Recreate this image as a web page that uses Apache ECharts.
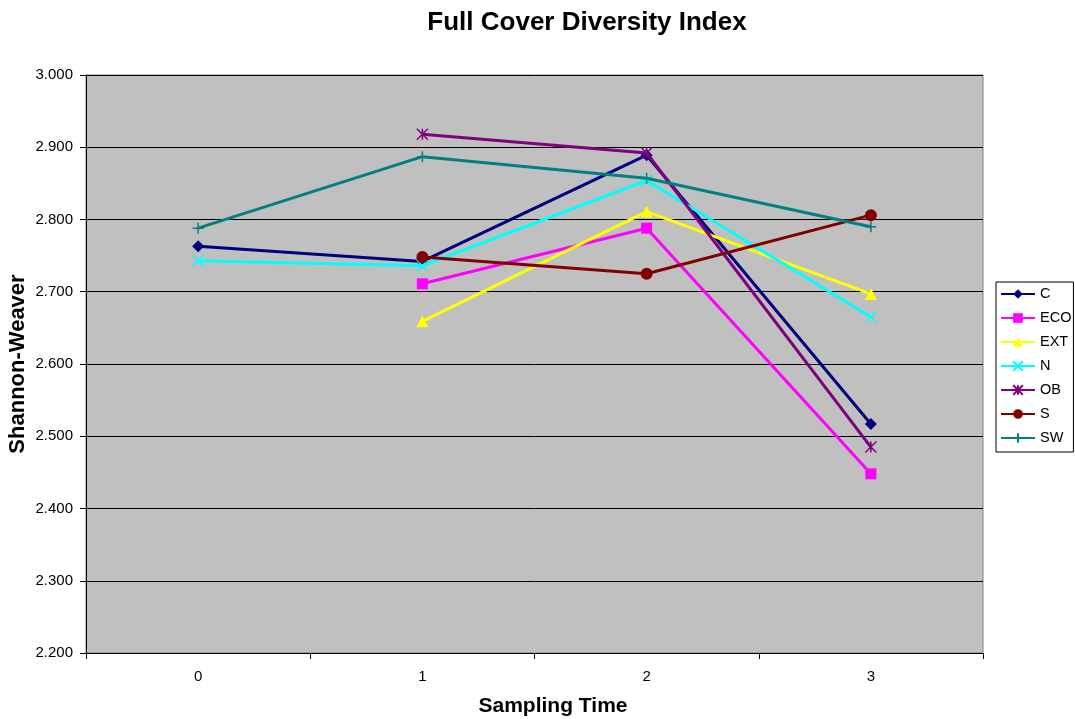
<!DOCTYPE html>
<html>
<head>
<meta charset="utf-8">
<script src="https://cdn.jsdelivr.net/npm/echarts@6/dist/echarts.min.js"></script>
<style>
  html, body { margin: 0; padding: 0; background: #ffffff; }
  #chart { width: 1075px; height: 719px; }
</style>
</head>
<body>
<div id="chart"></div>
<script>
// Sampling times on the x axis
const samplingTimes = ['0', '1', '2', '3'];

// Shannon-Weaver index per treatment (null = not sampled)
const seriesNames = ['C', 'ECO', 'EXT', 'N', 'OB', 'S', 'SW'];
const valuesC   = [2.763, 2.742, 2.889, 2.517];
const valuesECO = [null, 2.711, 2.788, 2.448];
const valuesEXT = [null, 2.659, 2.811, 2.697];
const valuesN   = [2.743, 2.736, 2.854, 2.665];
const valuesOB  = [null, 2.918, 2.892, 2.485];
const valuesS   = [null, 2.748, 2.725, 2.806];
const valuesSW  = [2.788, 2.887, 2.857, 2.790];

const yMin = 2.2, yMax = 3.0, yStep = 0.1;

const colors = ['#000080', '#FF00FF', '#FFFF00', '#00FFFF', '#800080', '#800000', '#008080'];
const symbols = [
  'diamond',
  'rect',
  'triangle',
  'path://M0,0L10,10M10,0L0,10',
  'path://M0,0L10,10M10,0L0,10M5,0L5,10',
  'circle',
  'path://M5,0L5,10M0,5L10,5'
];
const symbolSizes = [12, 11, 12, 11, 11, 12, 11];
const allValues = [valuesC, valuesECO, valuesEXT, valuesN, valuesOB, valuesS, valuesSW];

const font = 'Liberation Sans, Arial, sans-serif';

const series = seriesNames.map((name, i) => {
  const stroked = symbols[i].startsWith('path://');
  return {
    name: name,
    type: 'line',
    data: allValues[i],
    symbol: symbols[i],
    symbolSize: symbolSizes[i],
    showSymbol: true,
    connectNulls: false,
    lineStyle: { color: colors[i], width: 3 },
    itemStyle: stroked
      ? { color: colors[i], borderColor: colors[i], borderWidth: 1.5 }
      : { color: colors[i], borderWidth: 0 },
    emphasis: { disabled: true },
    animation: false,
    z: 3 + i
  };
});

const chart = echarts.init(document.getElementById('chart'), null, { renderer: 'canvas' });
chart.setOption({
  animation: false,
  backgroundColor: '#ffffff',
  title: {
    text: 'Full Cover Diversity Index',
    left: 582,
    top: 5,
    textAlign: 'center',
    textStyle: { fontFamily: font, fontSize: 26, fontWeight: 'bold', color: '#000' }
  },
  grid: {
    left: 86, right: 92, top: 75, bottom: 66,
    outerBoundsMode: 'none',
    containLabel: false,
    show: true,
    backgroundColor: '#C0C0C0',
    borderColor: '#808080',
    borderWidth: 1
  },
  legend: {
    orient: 'vertical',
    left: 996,
    top: 282,
    padding: [4, 2, 6, 4],
    itemWidth: 34,
    itemHeight: 12,
    itemGap: 8,
    borderColor: '#000',
    borderWidth: 1,
    backgroundColor: '#fff',
    textStyle: { fontFamily: font, fontSize: 14.5, lineHeight: 16, color: '#000', padding: [0, 0, 0, 0] },
    data: seriesNames
  },
  xAxis: {
    type: 'category',
    data: samplingTimes,
    boundaryGap: true,
    name: 'Sampling Time',
    nameLocation: 'middle',
    nameGap: 43,
    nameMoveOverlap: false,
    nameTextStyle: { fontFamily: font, fontSize: 21, fontWeight: 'bold', color: '#000', padding: [0, 0, 0, 37] },
    axisLine: { show: true, lineStyle: { color: '#000', width: 1 } },
    axisTick: { show: true, alignWithLabel: false, length: 6, lineStyle: { color: '#000' } },
    axisLabel: { fontFamily: font, fontSize: 15, color: '#000', margin: 16 },
    splitLine: { show: false }
  },
  yAxis: {
    type: 'value',
    min: yMin,
    max: yMax,
    interval: yStep,
    name: 'Shannon-Weaver',
    nameLocation: 'middle',
    nameGap: 57,
    nameMoveOverlap: false,
    nameRotate: 90,
    nameTextStyle: { fontFamily: font, fontSize: 22, fontWeight: 'bold', color: '#000' },
    axisLine: { show: true, lineStyle: { color: '#000', width: 1 } },
    axisTick: { show: true, length: 6, inside: false, lineStyle: { color: '#000' } },
    axisLabel: {
      fontFamily: font, fontSize: 15, color: '#000', margin: 13,
      formatter: v => v.toFixed(3)
    },
    splitLine: { show: true, lineStyle: { color: '#000', width: 1 } }
  },
  series: series
});
</script>
</body>
</html>
